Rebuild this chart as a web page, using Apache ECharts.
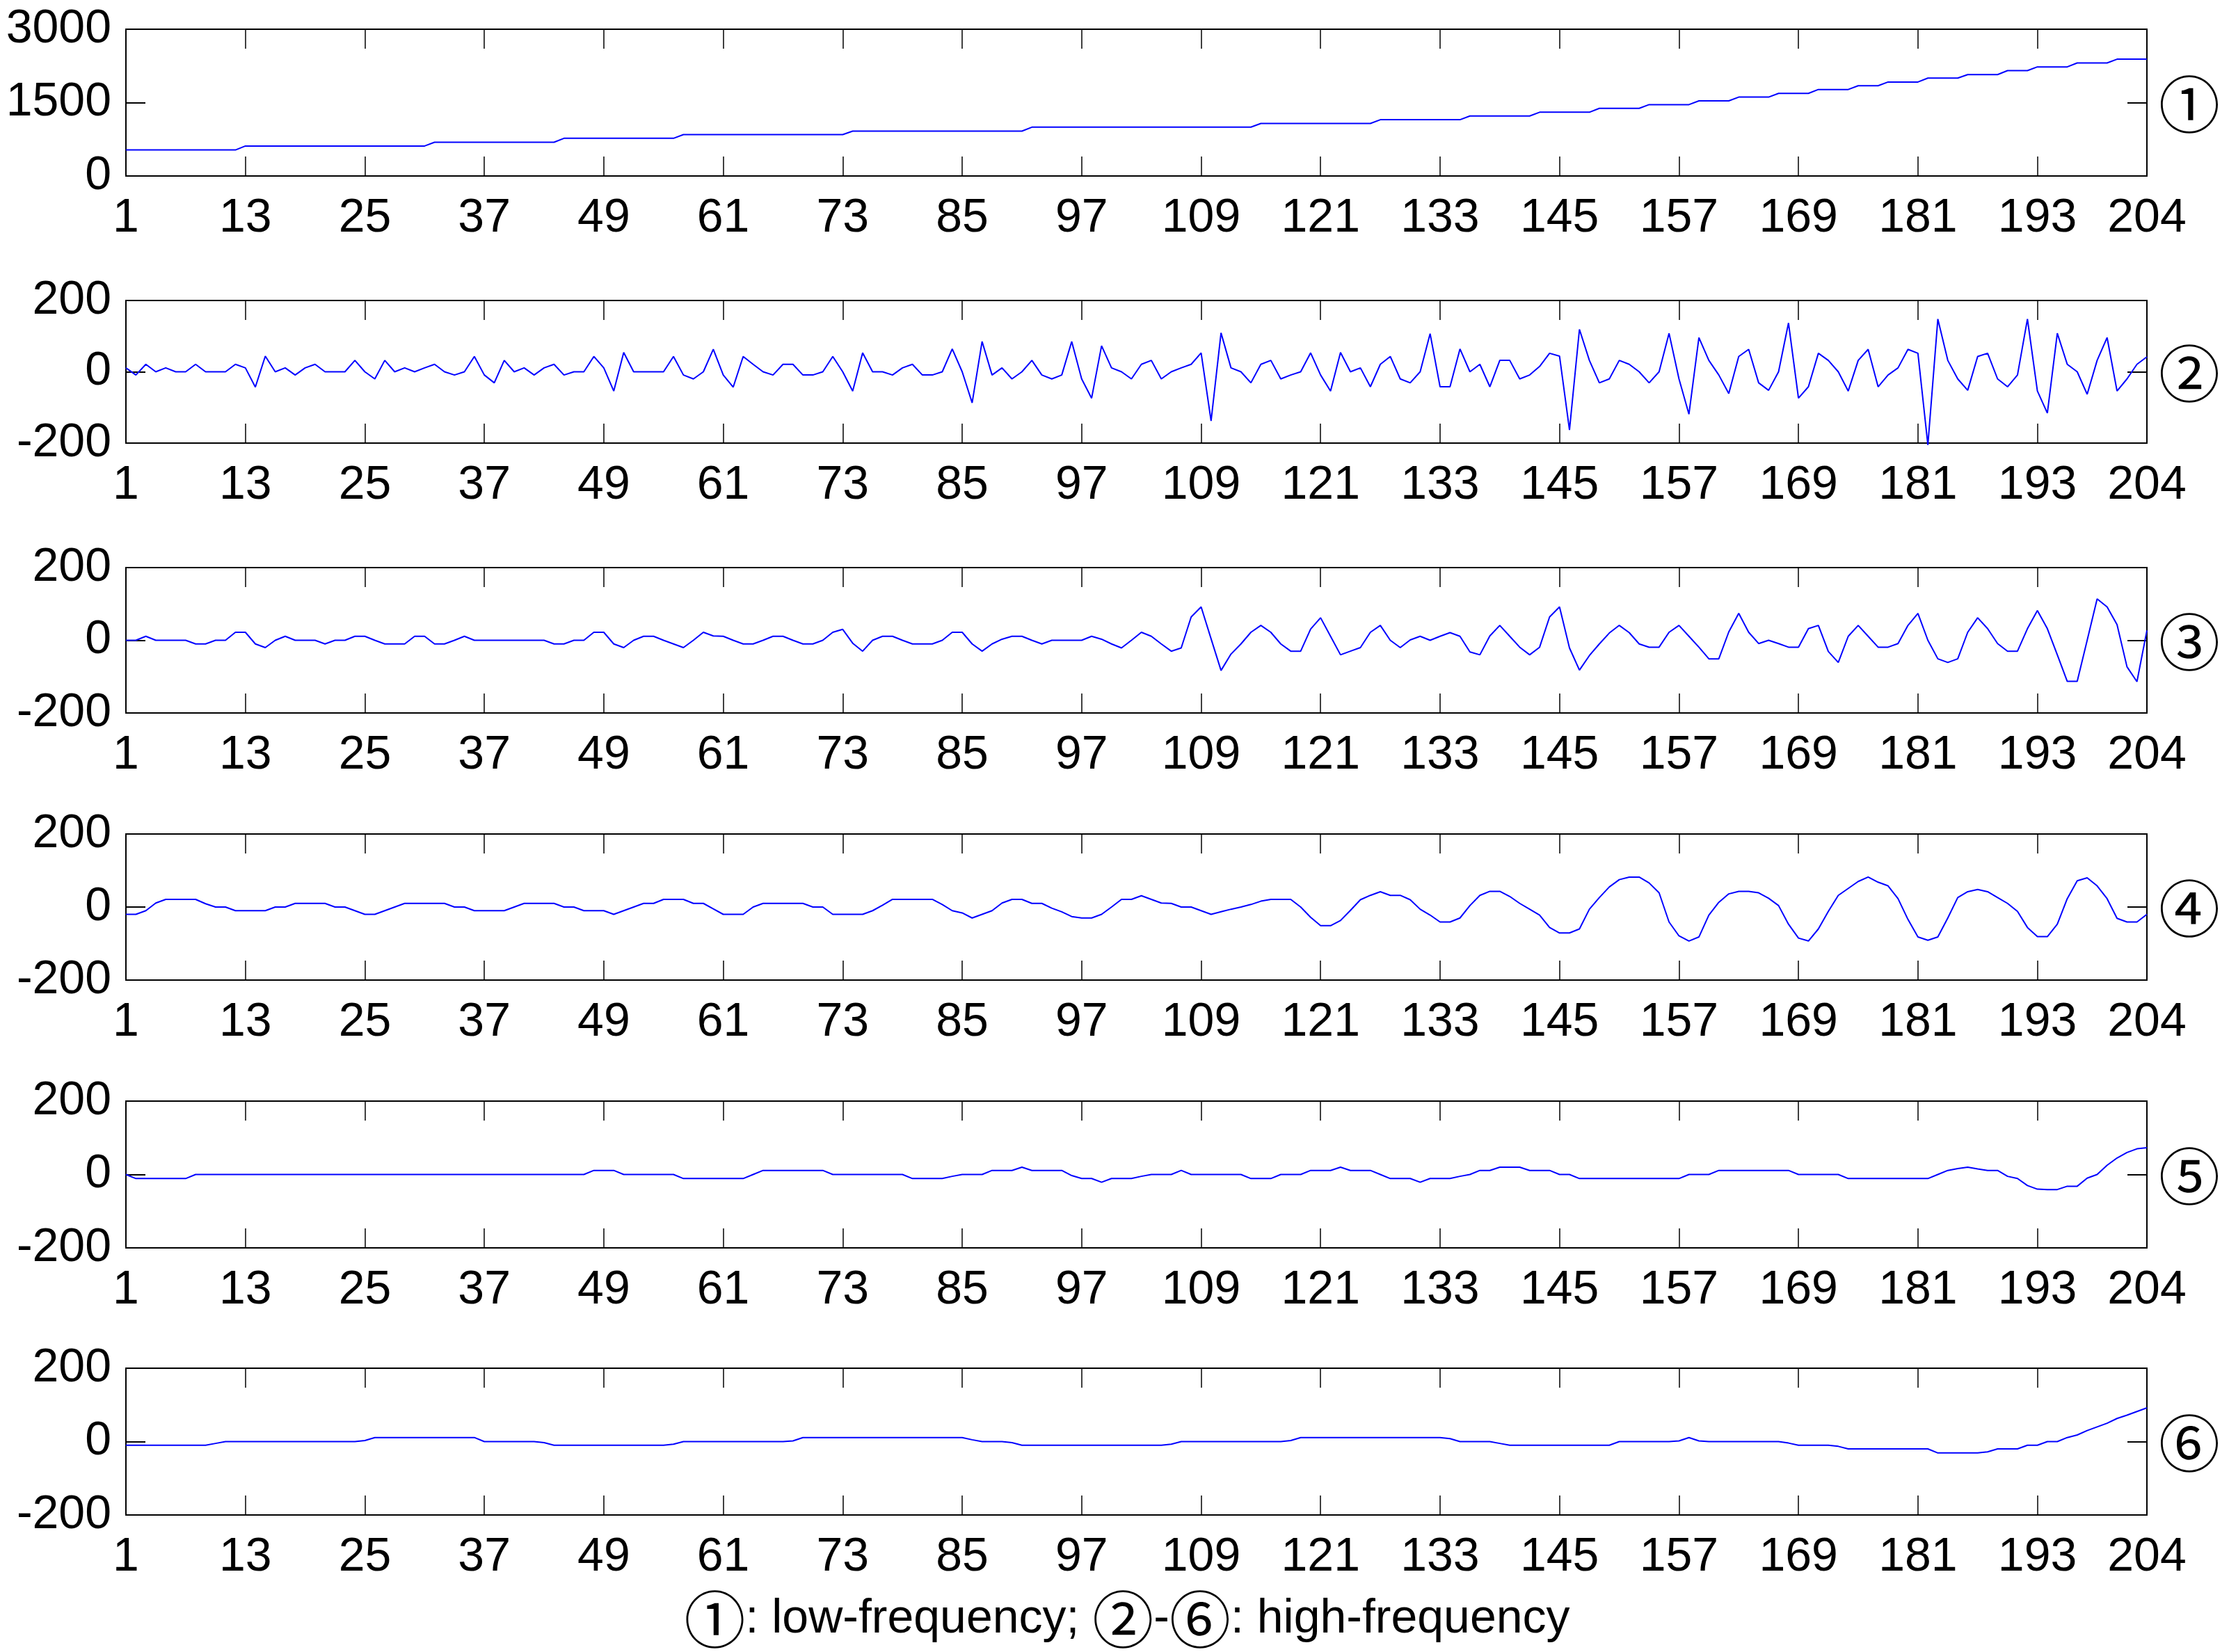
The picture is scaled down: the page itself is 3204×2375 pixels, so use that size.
<!DOCTYPE html>
<html>
<head>
<meta charset="utf-8">
<script src="https://cdn.jsdelivr.net/npm/echarts@6/dist/echarts.min.js"></script>
<style>
html,body{margin:0;padding:0;background:#fff;}
#chart{width:3204px;height:2375px;}
</style>
</head>
<body>
<div id="chart"></div>
<script>
// x categories (sample index 1..204)
const xLabels = Array.from({length: 204}, (_, i) => String(i + 1));
const xTickLabels = ['1','13','25','37','49','61','73','85','97','109','121','133','145','157','169','181','193','204'];

// panel labels
const panelMarks = ['①','②','③','④','⑤','⑥'];
const caption = '①: low-frequency; ②-⑥: high-frequency';

// ① low-frequency component
const s1 = [
 532,532,532,532,532,532,532,532,532,532,532,532,
 613,613,613,613,613,613,613,613,613,613,613,613,
 613,613,613,613,613,613,613,689,689,689,689,689,
 689,689,689,689,689,689,689,689,770,770,770,770,
 770,770,770,770,770,770,770,770,846,846,846,846,
 846,846,846,846,846,846,846,846,846,846,846,846,
 846,917,917,917,917,917,917,917,917,917,917,917,
 917,917,917,917,917,917,917,998,998,998,998,998,
 998,998,998,998,998,998,998,998,998,998,998,998,
 998,998,998,998,998,998,1074,1074,1074,1074,1074,1074,
 1074,1074,1074,1074,1074,1074,1150,1150,1150,1150,1150,1150,
 1150,1150,1150,1227,1227,1227,1227,1227,1227,1227,1303,1303,
 1303,1303,1303,1303,1383,1383,1383,1383,1383,1459,1459,1459,
 1459,1459,1536,1536,1536,1536,1612,1612,1612,1612,1688,1688,
 1688,1688,1768,1768,1768,1768,1845,1845,1845,1921,1921,1921,
 1921,2001,2001,2001,2001,2073,2073,2073,2073,2154,2154,2154,
 2230,2230,2230,2230,2310,2310,2310,2310,2387,2387,2387,2387
];

// ② high-frequency component
const s2 = [
 11,-9,21,0,11,0,0,21,0,0,0,21,
 11,-43,44,0,11,-9,11,21,0,0,0,32,
 0,-20,32,0,11,0,11,21,0,-9,0,43,
 -9,-31,32,0,11,-9,11,21,-9,0,0,43,
 11,-54,54,0,0,0,0,43,-9,-20,0,63,
 -9,-43,43,21,0,-9,21,21,-9,-9,0,43,
 0,-54,53,0,0,-9,11,21,-9,-9,0,64,
 0,-87,85,-9,11,-20,0,32,-9,-20,-9,85,
 -20,-74,73,11,0,-20,21,32,-20,0,11,21,
 53,-138,109,11,0,-31,21,32,-20,-9,0,53,
 -9,-54,54,0,11,-42,21,43,-20,-31,0,107,
 -42,-42,64,0,21,-42,32,32,-20,-9,15,52,
 44,-163,119,32,-31,-20,32,21,0,-31,0,108,
 -20,-119,96,32,-9,-61,43,63,-31,-52,0,137,
 -74,-42,52,32,0,-54,32,63,-42,-9,11,63,
 52,-205,148,32,-20,-52,43,52,-20,-42,-9,148,
 -54,-116,108,21,0,-63,32,96,-54,-20,21,42
];

// ③ high-frequency component
const s3 = [
 0,0,11,0,0,0,0,-10,-10,0,0,22,
 22,-10,-20,0,11,0,0,0,-10,0,0,11,
 11,0,-10,-10,-10,11,11,-10,-10,0,11,0,
 0,0,0,0,0,0,0,-10,-10,0,0,22,
 22,-10,-20,0,11,11,0,-10,-20,0,22,12,
 11,0,-10,-10,0,11,11,0,-10,-10,0,22,
 30,-8,-30,0,11,11,0,-10,-10,-10,0,22,
 22,-10,-30,-10,3,11,11,0,-10,0,0,0,
 0,11,3,-10,-21,0,22,11,-10,-30,-21,64,
 92,4,-83,-38,-10,22,41,22,-10,-30,-30,31,
 62,11,-40,-30,-20,22,41,0,-20,1,11,0,
 11,21,11,-32,-40,12,41,11,-19,-40,-19,64,
 92,-21,-82,-42,-10,20,41,21,-10,-19,-19,22,
 41,11,-19,-51,-51,23,74,22,-9,0,-9,-19,
 -19,32,41,-31,-61,11,41,11,-19,-19,-9,41,
 74,0,-51,-61,-51,22,62,32,-9,-30,-30,32,
 82,32,-40,-113,-113,0,114,92,43,-73,-114,27
];

// ④ high-frequency component
const s4 = [
 -20,-20,-10,11,21,21,21,21,9,0,0,-10,
 -10,-10,-10,0,0,10,10,10,10,0,0,-10,
 -20,-20,-10,0,10,10,10,10,10,0,0,-10,
 -10,-10,-10,0,10,10,10,10,0,0,-10,-10,
 -10,-20,-10,0,10,10,21,21,21,10,10,-5,
 -20,-20,-20,0,10,10,10,10,10,0,0,-20,
 -20,-20,-20,-10,5,21,21,21,21,21,7,-10,
 -16,-30,-20,-10,11,21,21,10,10,-3,-13,-26,
 -30,-30,-20,0,21,21,31,21,11,10,0,0,
 -10,-20,-13,-6,0,7,16,21,21,21,0,-28,
 -51,-51,-37,-9,20,32,42,32,32,20,-6,-22,
 -41,-41,-30,4,32,43,43,29,10,-6,-22,-56,
 -71,-71,-60,-6,26,55,75,82,82,66,39,-41,
 -79,-93,-82,-22,13,36,43,43,39,24,4,-47,
 -85,-93,-60,-12,32,51,70,82,68,58,23,-34,
 -82,-91,-82,-30,26,42,48,42,26,10,-12,-56,
 -81,-81,-47,23,72,80,58,23,-31,-41,-41,-20
];

// ⑤ high-frequency component
const s5 = [
 0,-11,-11,-11,-11,-11,-11,0,0,0,0,0,
 0,0,0,0,0,0,0,0,0,0,0,0,
 0,0,0,0,0,0,0,0,0,0,0,0,
 0,0,0,0,0,0,0,0,0,0,0,11,
 11,11,0,0,0,0,0,0,-11,-11,-11,-11,
 -11,-11,-11,0,11,11,11,11,11,11,11,0,
 0,0,0,0,0,0,0,-11,-11,-11,-11,-5,
 0,0,0,11,11,11,20,11,11,11,11,-3,
 -11,-11,-21,-11,-11,-11,-5,0,0,0,11,0,
 0,0,0,0,0,-11,-11,-11,0,0,0,11,
 11,11,20,11,11,11,0,-11,-11,-11,-21,-11,
 -11,-11,-5,0,11,11,20,20,20,11,11,11,
 0,0,-11,-11,-11,-11,-11,-11,-11,-11,-11,-11,
 -11,0,0,0,11,11,11,11,11,11,11,11,
 0,0,0,0,0,-11,-11,-11,-11,-11,-11,-11,
 -11,-11,0,11,16,20,15,11,11,-5,-11,-30,
 -40,-41,-41,-32,-32,-10,0,25,45,60,70,73
];

// ⑥ high-frequency component
const s6 = [
 -10,-10,-10,-10,-10,-10,-10,-10,-10,-5,0,0,
 0,0,0,0,0,0,0,0,0,0,0,0,
 3,11,11,11,11,11,11,11,11,11,11,11,
 0,0,0,0,0,0,-3,-10,-10,-10,-10,-10,
 -10,-10,-10,-10,-10,-10,-10,-7,0,0,0,0,
 0,0,0,0,0,0,0,2,11,11,11,11,
 11,11,11,11,11,11,11,11,11,11,11,11,
 11,5,0,0,0,-3,-10,-10,-10,-10,-10,-10,
 -10,-10,-10,-10,-10,-10,-10,-10,-10,-7,0,0,
 0,0,0,0,0,0,0,0,0,3,11,11,
 11,11,11,11,11,11,11,11,11,11,11,11,
 11,8,0,0,0,0,-5,-10,-10,-10,-10,-10,
 -10,-10,-10,-10,-10,-10,0,0,0,0,0,0,
 2,11,2,0,0,0,0,0,0,0,0,-4,
 -10,-10,-10,-10,-13,-20,-20,-20,-20,-20,-20,-20,
 -20,-20,-31,-31,-31,-31,-31,-28,-20,-20,-20,-10,
 -10,0,0,11,18,30,40,50,63,72,82,92
];

const seriesData = [s1, s2, s3, s4, s5, s6];
const yRanges = [[0, 3000, 1500], [-200, 200, 200], [-200, 200, 200], [-200, 200, 200], [-200, 200, 200], [-200, 200, 200]];

const tops = [42, 432, 816, 1199, 1583, 1967];
const heights = [211, 205, 209, 210, 211, 211];
const LEFT = 181, RIGHT = 118;
const FONT = '"Liberation Sans", Arial, sans-serif';
const CJK = '"Noto Sans CJK SC", "DejaVu Sans", sans-serif';

const tickSet = new Set(xTickLabels);
const showIdx = (idx) => tickSet.has(xLabels[idx]);

const grids = [], xAxes = [], yAxes = [], series = [], graphics = [];
for (let k = 0; k < 6; k++) {
  grids.push({left: LEFT, right: RIGHT, top: tops[k], height: heights[k], show: true,
    borderColor: '#000', borderWidth: 2, backgroundColor: 'transparent'});
  xAxes.push({gridIndex: k, type: 'category', data: xLabels, boundaryGap: false, position: 'bottom',
    axisLine: {show: true, onZero: false, lineStyle: {color: '#000', width: 2}},
    axisTick: {show: true, inside: true, length: 28, interval: (i) => showIdx(i), lineStyle: {color: '#000', width: 1.5}},
    axisLabel: {show: true, interval: (i) => showIdx(i), color: '#000', fontSize: 68, fontFamily: FONT, margin: 27},
    splitLine: {show: false}});
  xAxes.push({gridIndex: k, type: 'category', data: xLabels, boundaryGap: false, position: 'top',
    axisLine: {show: true, onZero: false, lineStyle: {color: '#000', width: 2}},
    axisTick: {show: true, inside: true, length: 28, interval: (i) => showIdx(i), lineStyle: {color: '#000', width: 1.5}},
    axisLabel: {show: false}, splitLine: {show: false}});
  const [mn, mx, iv] = yRanges[k];
  yAxes.push({gridIndex: k, type: 'value', min: mn, max: mx, interval: iv, position: 'left',
    axisLine: {show: true, onZero: false, lineStyle: {color: '#000', width: 2}},
    axisTick: {show: true, inside: true, length: 28, lineStyle: {color: '#000', width: 2}},
    axisLabel: {show: true, color: '#000', fontSize: 68, fontFamily: FONT, margin: 21,
      formatter: (v) => String(v)},
    splitLine: {show: false}});
  yAxes.push({gridIndex: k, type: 'value', min: mn, max: mx, interval: iv, position: 'right',
    axisLine: {show: true, onZero: false, lineStyle: {color: '#000', width: 2}},
    axisTick: {show: true, inside: true, length: 28, lineStyle: {color: '#000', width: 2}},
    axisLabel: {show: false}, splitLine: {show: false}});
  series.push({type: 'line', xAxisIndex: 2 * k, yAxisIndex: 2 * k, data: seriesData[k],
    symbol: 'none', showSymbol: false, clip: false, silent: true,
    lineStyle: {color: '#0000ff', width: 2}});
  graphics.push({type: 'text', x: 3147, y: tops[k] + heights[k] / 2 + 2,
    style: {text: panelMarks[k], fontSize: 88, fontFamily: CJK, fill: '#000',
      align: 'center', verticalAlign: 'middle', textAlign: 'center', textVerticalAlign: 'middle'}});
}

// caption
const capParts = caption.split(/([①-⑥])/).filter(s => s.length);
const capRich = capParts.map(p => /[①-⑥]/.test(p) ? '{c|' + p + '}' : '{t|' + p + '}').join('');
graphics.push({type: 'text', x: 1620, y: 2328,
  style: {text: capRich, align: 'center', verticalAlign: 'middle', textAlign: 'center', textVerticalAlign: 'middle',
    rich: {
      c: {fontSize: 88, fontFamily: CJK, fill: '#000', color: '#000'},
      t: {fontSize: 68, fontFamily: FONT, fill: '#000', color: '#000'}
    }}});

const chart = echarts.init(document.getElementById('chart'), null, {renderer: 'canvas'});
chart.setOption({
  animation: false,
  backgroundColor: '#fff',
  grid: grids,
  xAxis: xAxes,
  yAxis: yAxes,
  series: series,
  graphic: graphics
});
</script>
</body>
</html>
